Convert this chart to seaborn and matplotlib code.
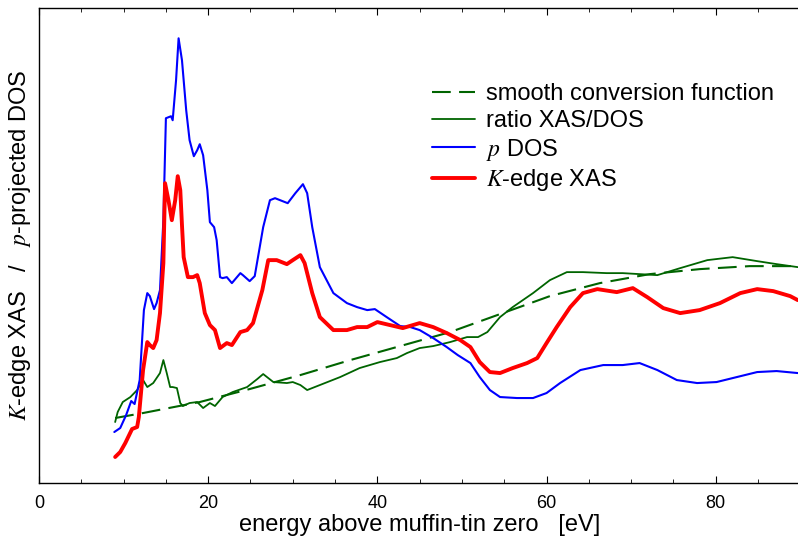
import numpy as np
import pandas as pd
import seaborn as sns
import matplotlib
matplotlib.use("Agg")
import matplotlib.pyplot as plt
from matplotlib.ticker import MultipleLocator

# energie (eV) i vrijednosti ocitane sa slike (proizvoljne jedinice)
dos_e = [8.9, 9.6, 10.3, 10.9, 11.3, 11.9, 12.4, 12.8, 13.1, 13.6, 13.9, 14.3, 14.7, 15.0,
         15.6, 15.8, 16.2, 16.5, 16.9, 17.4, 17.8, 18.3, 18.7, 19.0, 19.4, 19.9, 20.2, 20.7,
         21.0, 21.4, 21.7, 22.2, 22.8, 23.8, 24.1, 24.9, 25.5, 26.5, 27.3, 27.9, 29.4, 30.3,
         31.2, 31.7, 32.3, 33.2, 34.8, 36.4, 37.6, 38.8, 39.7, 41.1, 42.7, 43.9, 45.0, 46.6,
         48.2, 49.5, 51.0, 52.1, 53.3, 54.5, 56.5, 58.4, 60.0, 61.6, 64.0, 66.7, 69.0, 71.0,
         73.1, 75.4, 77.8, 80.1, 82.5, 84.9, 87.2, 89.7]
dos_val = [0.51, 0.55, 0.68, 0.82, 0.79, 1.03, 1.73, 1.90, 1.87, 1.74, 1.80, 1.93, 2.63, 3.65,
           3.67, 3.63, 4.03, 4.45, 4.23, 3.73, 3.43, 3.27, 3.33, 3.39, 3.28, 2.93, 2.61, 2.56,
           2.43, 2.06, 2.05, 2.06, 2.00, 2.10, 2.08, 2.02, 2.07, 2.56, 2.83, 2.85, 2.80, 2.90,
           2.99, 2.90, 2.56, 2.16, 1.90, 1.80, 1.76, 1.73, 1.74, 1.66, 1.57, 1.56, 1.53, 1.45,
           1.36, 1.28, 1.20, 1.06, 0.93, 0.86, 0.85, 0.85, 0.90, 1.00, 1.13, 1.18, 1.18, 1.20,
           1.13, 1.03, 1.00, 1.01, 1.06, 1.11, 1.12, 1.10]

xas_e = [9.0, 9.6, 10.2, 11.0, 11.6, 11.8, 12.3, 12.8, 13.1, 13.5, 13.9, 14.3, 14.7, 14.9,
         15.3, 15.7, 16.1, 16.4, 16.7, 16.9, 17.1, 17.6, 18.2, 18.7, 19.0, 19.6, 20.2, 20.8,
         21.4, 22.2, 22.8, 23.8, 24.6, 25.3, 26.4, 27.1, 28.1, 29.3, 30.0, 30.9, 31.4, 32.3,
         33.2, 34.8, 36.4, 37.6, 38.8, 40.0, 41.5, 43.0, 44.2, 45.0, 46.6, 48.2, 49.8, 51.0,
         52.1, 53.3, 54.5, 56.0, 57.7, 58.9, 60.0, 61.2, 62.8, 64.3, 66.0, 68.3, 70.2, 71.9,
         73.8, 75.8, 78.1, 80.5, 82.9, 84.9, 86.8, 88.8, 89.7]
xas_val = [0.26, 0.31, 0.40, 0.54, 0.56, 0.66, 1.13, 1.41, 1.38, 1.35, 1.43, 1.70, 2.20, 3.00,
           2.83, 2.63, 2.83, 3.07, 2.93, 2.58, 2.26, 2.06, 2.06, 2.08, 2.00, 1.70, 1.58, 1.53,
           1.35, 1.40, 1.38, 1.51, 1.53, 1.60, 1.93, 2.23, 2.23, 2.19, 2.23, 2.28, 2.20, 1.90,
           1.66, 1.53, 1.53, 1.56, 1.56, 1.61, 1.58, 1.55, 1.58, 1.60, 1.56, 1.50, 1.43, 1.36,
           1.21, 1.11, 1.10, 1.15, 1.20, 1.25, 1.40, 1.56, 1.76, 1.90, 1.94, 1.91, 1.95, 1.86,
           1.75, 1.70, 1.73, 1.80, 1.90, 1.94, 1.92, 1.87, 1.83]

ratio_e = [9.0, 9.3, 9.9, 10.8, 11.6, 12.3, 12.8, 13.5, 14.3, 14.7, 15.1, 15.5, 15.8, 16.3,
           16.7, 17.0, 17.8, 18.7, 19.4, 20.2, 20.8, 21.7, 22.9, 24.6, 25.8, 26.5, 27.7, 29.3,
           30.0, 30.9, 31.7, 33.2, 35.6, 37.9, 40.3, 42.3, 43.5, 45.0, 46.6, 48.6, 50.6, 51.9,
           53.0, 54.5, 56.0, 58.4, 60.4, 62.4, 64.3, 67.1, 69.0, 71.0, 73.1, 75.8, 79.0, 82.0,
           84.9, 87.2, 89.7]
ratio_val = [0.61, 0.71, 0.81, 0.86, 0.93, 1.03, 0.96, 1.00, 1.10, 1.23, 1.10, 0.96, 0.96, 0.95,
             0.80, 0.77, 0.80, 0.81, 0.75, 0.80, 0.77, 0.86, 0.91, 0.96, 1.04, 1.09, 1.01, 1.00,
             1.01, 0.98, 0.93, 0.98, 1.06, 1.15, 1.21, 1.25, 1.30, 1.35, 1.37, 1.41, 1.46, 1.46,
             1.51, 1.66, 1.76, 1.90, 2.03, 2.11, 2.11, 2.10, 2.10, 2.09, 2.08, 2.15, 2.23, 2.26,
             2.22, 2.19, 2.16]

conv_e = [9.0, 12.3, 19.0, 24.9, 30.9, 36.8, 42.7, 48.6, 54.5, 60.4, 66.3, 72.2, 78.1, 84.0, 89.7]
conv_val = [0.65, 0.70, 0.81, 0.94, 1.08, 1.23, 1.37, 1.51, 1.69, 1.87, 2.00, 2.09, 2.14, 2.17, 2.17]

sns.set_style("ticks")
plt.rcParams['font.family'] = ['Liberation Sans', 'DejaVu Sans']
plt.rcParams['mathtext.fontset'] = 'stix'
plt.rcParams['text.color'] = 'black'
plt.rcParams['axes.labelcolor'] = 'black'
plt.rcParams['xtick.color'] = 'black'

fig = plt.figure(figsize=(7.98, 5.40), dpi=100)
ax = fig.add_axes([0.0489, 0.1056, 0.954, 0.879])

green = "#006400"
sns.lineplot(x=conv_e, y=conv_val, ax=ax, color=green, lw=1.5, estimator=None, sort=False,
             label="smooth conversion function")
ax.lines[-1].set_dashes([9, 4])
sns.lineplot(x=ratio_e, y=ratio_val, ax=ax, color=green, lw=1.3, estimator=None, sort=False,
             label="ratio XAS/DOS")
sns.lineplot(x=dos_e, y=dos_val, ax=ax, color="#0000ff", lw=1.5, estimator=None, sort=False,
             label="$p$ DOS")
sns.lineplot(x=xas_e, y=xas_val, ax=ax, color="#ff0000", lw=2.8, estimator=None, sort=False,
             label="$K$-edge XAS")

ax.set_xlim(0, 90)
ax.set_ylim(0, 4.75)
ax.xaxis.set_major_locator(MultipleLocator(20))
ax.xaxis.set_minor_locator(MultipleLocator(5))
ax.tick_params(axis="x", which="both", direction="in", top=True, bottom=True, labelsize=13, pad=9)
ax.tick_params(axis="x", which="major", length=5)
ax.tick_params(axis="x", which="minor", length=3)
ax.set_yticks([])
for s in ax.spines.values():
    s.set_linewidth(1.0)
    s.set_color("black")

ax.set_xlabel("energy above muffin-tin zero   [eV]", fontsize=17, labelpad=1)
ax.set_ylabel("$K$-edge XAS   /   $p$-projected DOS", fontsize=17, labelpad=4)

leg = ax.legend(loc="upper left", bbox_to_anchor=(0.495, 0.877), frameon=False, fontsize=17,
                handlelength=1.8, handletextpad=0.45, labelspacing=0.2, borderpad=0.2)

plt.savefig("out.png", dpi=100)
